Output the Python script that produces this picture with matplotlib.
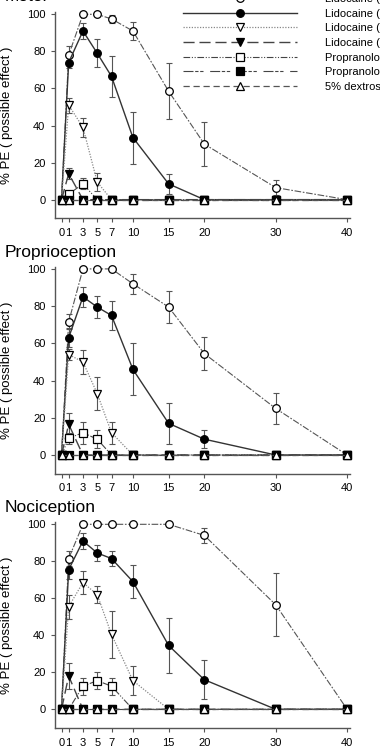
import numpy as np
import matplotlib.pyplot as plt
from matplotlib.lines import Line2D

plt.rcParams['font.family'] = ['Liberation Sans', 'DejaVu Sans']

# минуты после инъекции
times = [0, 1, 3, 5, 7, 10, 15, 20, 30, 40]
xticks = [0, 1, 3, 5, 7, 10, 15, 20, 30, 40]
yticks = [0, 20, 40, 60, 80, 100]

panel_titles = ['Motor', 'Proprioception', 'Nociception']
series_labels = ['Lidocaine (9 μmol/kg)', 'Lidocaine (6 μmol/kg)',
                 'Lidocaine (3 μmol/kg)', 'Lidocaine (1 μmol/kg)',
                 'Propranolol (6 μmol/kg)', 'Propranolol (2 μmol/kg)',
                 '5% dextrose']

# Motor
motor_lido9 = [0, 78, 100, 100, 97.5, 91, 58.5, 30, 6.5, 0]
motor_lido9_err = [0, 5, 0, 0, 2, 5, 15, 12, 4, 0]
motor_lido6 = [0, 74, 91, 79, 66.5, 33.5, 8.5, 0, 0, 0]
motor_lido6_err = [0, 3, 4.5, 7.5, 11, 14, 5.5, 0, 0, 0]
motor_lido3 = [0, 51, 39, 9.5, 0, 0, 0, 0, 0, 0]
motor_lido3_err = [0, 4, 5, 5, 0, 0, 0, 0, 0, 0]
motor_lido1 = [0, 14, 0, 0, 0, 0, 0, 0, 0, 0]
motor_lido1_err = [0, 3, 0, 0, 0, 0, 0, 0, 0, 0]
motor_prop_a = [0, 3, 8.5, 0, 0, 0, 0, 0, 0, 0]
motor_prop_a_err = [0, 0, 3, 0, 0, 0, 0, 0, 0, 0]
motor_prop_b = [0, 0, 0, 0, 0, 0, 0, 0, 0, 0]
motor_prop_b_err = [0, 0, 0, 0, 0, 0, 0, 0, 0, 0]
motor_dex = [0, 0, 0, 0, 0, 0, 0, 0, 0, 0]
motor_dex_err = [0, 0, 0, 0, 0, 0, 0, 0, 0, 0]

# Proprioception
prop_lido9 = [0, 71.5, 100, 100, 100, 92, 79.5, 54.5, 25, 0]
prop_lido9_err = [0, 4, 0, 0, 0, 5.5, 8.5, 9, 8.5, 0]
prop_lido6 = [0, 63, 85, 79.5, 75, 46, 17, 8.5, 0, 0]
prop_lido6_err = [0, 5, 5.5, 6, 8, 14, 11, 5, 0, 0]
prop_lido3 = [0, 54, 50, 33, 12, 0, 0, 0, 0, 0]
prop_lido3_err = [0, 3, 6.5, 9, 6, 0, 0, 0, 0, 0]
prop_lido1 = [0, 16.5, 0, 0, 0, 0, 0, 0, 0, 0]
prop_lido1_err = [0, 6, 0, 0, 0, 0, 0, 0, 0, 0]
prop_prop_a = [0, 9, 12, 8.5, 0, 0, 0, 0, 0, 0]
prop_prop_a_err = [0, 3, 6, 5, 0, 0, 0, 0, 0, 0]
prop_prop_b = [0, 0, 0, 0, 0, 0, 0, 0, 0, 0]
prop_prop_b_err = [0, 0, 0, 0, 0, 0, 0, 0, 0, 0]
prop_dex = [0, 0, 0, 0, 0, 0, 0, 0, 0, 0]
prop_dex_err = [0, 0, 0, 0, 0, 0, 0, 0, 0, 0]

# Nociception
noci_lido9 = [0, 81.5, 100, 100, 100, 100, 100, 94, 56.5, 0]
noci_lido9_err = [0, 4, 0, 0, 0, 0, 0, 4, 17, 0]
noci_lido6 = [0, 75.5, 91, 84.5, 81.5, 69, 34.5, 16, 0, 0]
noci_lido6_err = [0, 5, 4.5, 4.5, 4, 9, 15, 10.5, 0, 0]
noci_lido3 = [0, 55.5, 68.5, 62, 40.5, 15.5, 0, 0, 0, 0]
noci_lido3_err = [0, 6.5, 6, 4.5, 12.5, 8, 0, 0, 0, 0]
noci_lido1 = [0, 18, 0, 0, 0, 0, 0, 0, 0, 0]
noci_lido1_err = [0, 7, 0, 0, 0, 0, 0, 0, 0, 0]
noci_prop_a = [0, 0, 12.5, 15.5, 12.5, 0, 0, 0, 0, 0]
noci_prop_a_err = [0, 0, 4.5, 4.5, 4.5, 0, 0, 0, 0, 0]
noci_prop_b = [0, 0, 0, 0, 0, 0, 0, 0, 0, 0]
noci_prop_b_err = [0, 0, 0, 0, 0, 0, 0, 0, 0, 0]
noci_dex = [0, 0, 0, 0, 0, 0, 0, 0, 0, 0]
noci_dex_err = [0, 0, 0, 0, 0, 0, 0, 0, 0, 0]

panels = [
    [(motor_lido9, motor_lido9_err), (motor_lido6, motor_lido6_err),
     (motor_lido3, motor_lido3_err), (motor_lido1, motor_lido1_err),
     (motor_prop_a, motor_prop_a_err), (motor_prop_b, motor_prop_b_err),
     (motor_dex, motor_dex_err)],
    [(prop_lido9, prop_lido9_err), (prop_lido6, prop_lido6_err),
     (prop_lido3, prop_lido3_err), (prop_lido1, prop_lido1_err),
     (prop_prop_a, prop_prop_a_err), (prop_prop_b, prop_prop_b_err),
     (prop_dex, prop_dex_err)],
    [(noci_lido9, noci_lido9_err), (noci_lido6, noci_lido6_err),
     (noci_lido3, noci_lido3_err), (noci_lido1, noci_lido1_err),
     (noci_prop_a, noci_prop_a_err), (noci_prop_b, noci_prop_b_err),
     (noci_dex, noci_dex_err)],
]

# стили: маркер, заливка, линия, цвет линии, толщина
styles = [
    ('o', 'white', (0, (6, 1.5, 1.5, 1.5)), '#555555', 0.8),
    ('o', 'black', '-', '#333333', 1.0),
    ('v', 'white', (0, (1, 1.2)), '#888888', 0.9),
    ('v', 'black', (0, (8, 3.5)), '#444444', 1.0),
    ('s', 'white', (0, (6, 1.5, 1, 1.5, 1, 1.5)), '#444444', 0.8),
    ('s', 'black', (0, (9, 1.5, 3, 1.5, 3, 6)), '#444444', 0.8),
    ('^', 'white', (0, (5, 3)), '#555555', 0.9),
]

fig = plt.figure(figsize=(3.8, 7.55), dpi=100)
positions = [[0.145, 0.711, 0.776, 0.2725],
             [0.145, 0.3727, 0.776, 0.2736],
             [0.145, 0.036, 0.776, 0.272]]
title_y = [1.004, 0.6662, 0.3278]

x = np.array(times)
for p, series in enumerate(panels):
    ax = fig.add_axes(positions[p])
    for (vals, errs), (mk, mfc, ls, lc, lw) in zip(series, styles):
        vals = np.array(vals, dtype=float)
        errs = np.array(errs, dtype=float)
        m = errs > 0
        if m.any():
            ax.errorbar(x[m], vals[m], yerr=errs[m], fmt='none', ecolor='#555555',
                        elinewidth=0.8, capsize=2.2, capthick=0.8, zorder=2,
                        clip_on=False)
        ax.plot(x, vals, linestyle=ls, color=lc, lw=lw, marker=mk, ms=5.5,
                mfc=mfc, mec='black', mew=0.9, zorder=3, clip_on=False)
    ax.set_xlim(-0.9, 40.4)
    ax.set_ylim(-10, 101)
    ax.set_xticks(xticks)
    ax.set_yticks(yticks)
    ax.tick_params(labelsize=8, length=3, width=0.8, color='#555555', pad=4)
    for s in ['top', 'right']:
        ax.spines[s].set_visible(False)
    for s in ['left', 'bottom']:
        ax.spines[s].set_color('#555555')
        ax.spines[s].set_linewidth(1.0)
    ax.set_ylabel('% PE ( possible effect )', fontsize=9.5)
    ax.yaxis.set_label_coords(-0.142, 0.5)
    fig.text(5 / 380, title_y[p], panel_titles[p], fontsize=12.5, va='center', ha='left')

handles = [Line2D([], [], linestyle=ls, color=lc, lw=lw, marker=mk, ms=5.5,
                  mfc=mfc, mec='black', mew=0.9)
           for (mk, mfc, ls, lc, lw) in styles]
fig.legend(handles, series_labels, loc='upper left', bbox_to_anchor=(183 / 380, 1.008),
           frameon=False, fontsize=8, handlelength=10.3, handletextpad=2.5,
           labelspacing=0.42, borderpad=0, borderaxespad=0, numpoints=1)

fig.savefig('out.png', dpi=100)
